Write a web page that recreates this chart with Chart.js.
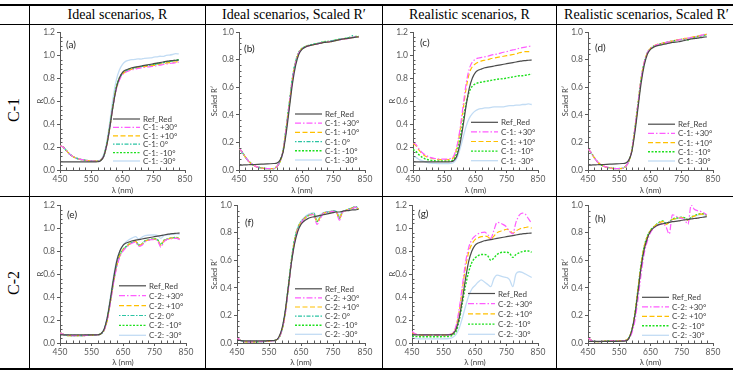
<!DOCTYPE html>
<html>
<head>
  <title>Reflectance spectra, C-1 / C-2</title>
  <script src="https://cdn.jsdelivr.net/npm/chart.js"></script>
  <style>
    body { margin: 0; background: #fff; }
    #page { position: relative; width: 736px; height: 375px; overflow: hidden; }
    .rule { position: absolute; background: #000; }
    .head {
      position: absolute; top: 5px; height: 19px; line-height: 19px;
      text-align: center; font-family: "Liberation Serif", serif; font-size: 14px; color: #000;
      white-space: nowrap;
    }
    .rowlab {
      position: absolute; width: 60px; height: 20px; line-height: 20px; text-align: center;
      font-family: "Liberation Serif", serif; font-size: 16px; transform: rotate(-90deg);
    }
    .cell { position: absolute; }
  </style>
</head>
<body>
<div id="page">
  <div class="rule" style="left:0; top:4px; width:733px; height:2px;"></div>
  <div class="rule" style="left:0; top:24px; width:733px; height:1px;"></div>
  <div class="rule" style="left:0; top:196px; width:733px; height:1px;"></div>
  <div class="rule" style="left:0; top:368px; width:733px; height:2px;"></div>
  <div class="rule" style="left:29px; top:5px; width:1px; height:364px;"></div>
  <div class="rule" style="left:205px; top:5px; width:1px; height:364px;"></div>
  <div class="rule" style="left:382px; top:5px; width:1px; height:364px;"></div>
  <div class="rule" style="left:556px; top:5px; width:1px; height:364px;"></div>

  <div class="head" style="left:30px; width:175px;">Ideal scenarios, R</div>
  <div class="head" style="left:206px; width:176px;">Ideal scenarios, Scaled R′</div>
  <div class="head" style="left:383px; width:173px;">Realistic scenarios, R</div>
  <div class="head" style="left:557px; width:179px;">Realistic scenarios, Scaled R′</div>

  <div class="rowlab" style="left:-16px; top:100px;">C-1</div>
  <div class="rowlab" style="left:-16px; top:273px;">C-2</div>

  <div class="cell" style="left:30px; top:25px;"><canvas id="pa" width="175" height="171"></canvas></div>
  <div class="cell" style="left:206px; top:25px;"><canvas id="pb" width="176" height="171"></canvas></div>
  <div class="cell" style="left:383px; top:25px;"><canvas id="pc" width="173" height="171"></canvas></div>
  <div class="cell" style="left:557px; top:25px;"><canvas id="pd" width="179" height="171"></canvas></div>
  <div class="cell" style="left:30px; top:198px;"><canvas id="pe" width="175" height="170"></canvas></div>
  <div class="cell" style="left:206px; top:198px;"><canvas id="pf" width="176" height="170"></canvas></div>
  <div class="cell" style="left:383px; top:198px;"><canvas id="pg" width="173" height="170"></canvas></div>
  <div class="cell" style="left:557px; top:198px;"><canvas id="ph" width="179" height="170"></canvas></div>
</div>
<script>
// wavelength grid (nm)
const wavelengths = [450,460,470,480,490,500,520,540,560,570,580,590,600,610,620,630,640,650,660,670,680,690,700,710,720,740,750,760,770,780,790,800,810,820,830];

// reference spectra
const refR = [0.07,0.07,0.07,0.07,0.07,0.07,0.07,0.07,0.07,0.072,0.08,0.12,0.22,0.38,0.56,0.71,0.80,0.85,0.87,0.88,0.89,0.895,0.90,0.905,0.91,0.92,0.925,0.93,0.935,0.94,0.945,0.95,0.952,0.955,0.957];
const refScaledC1 = [0.035,0.036,0.037,0.038,0.039,0.04,0.042,0.044,0.047,0.05,0.07,0.13,0.27,0.45,0.63,0.76,0.84,0.875,0.89,0.9,0.905,0.91,0.915,0.92,0.925,0.93,0.935,0.94,0.945,0.95,0.953,0.956,0.96,0.963,0.966];
const refScaledF = [0.02,0.018,0.016,0.015,0.015,0.015,0.015,0.016,0.018,0.02,0.04,0.1,0.22,0.4,0.58,0.72,0.81,0.86,0.885,0.9,0.91,0.915,0.92,0.925,0.93,0.94,0.945,0.95,0.95,0.955,0.96,0.96,0.965,0.965,0.97];
const refScaledH = [0.012,0.012,0.012,0.012,0.012,0.012,0.012,0.012,0.013,0.015,0.03,0.09,0.2,0.37,0.55,0.68,0.76,0.81,0.835,0.85,0.86,0.865,0.87,0.875,0.88,0.885,0.89,0.893,0.896,0.9,0.903,0.906,0.91,0.913,0.916];

// (a) ideal R, C-1
const a_p30 = [0.21,0.2,0.17,0.14,0.12,0.105,0.09,0.082,0.078,0.078,0.085,0.12,0.22,0.38,0.56,0.7,0.78,0.83,0.85,0.862,0.872,0.878,0.884,0.889,0.893,0.9,0.902,0.908,0.912,0.918,0.922,0.927,0.93,0.934,0.938];
const a_p10 = [0.21,0.2,0.17,0.14,0.12,0.105,0.09,0.082,0.078,0.078,0.085,0.12,0.22,0.38,0.57,0.71,0.79,0.835,0.855,0.868,0.878,0.884,0.89,0.895,0.9,0.906,0.91,0.915,0.92,0.925,0.93,0.934,0.937,0.94,0.944];
const a_p0  = [0.21,0.2,0.17,0.14,0.12,0.105,0.09,0.082,0.078,0.078,0.085,0.12,0.23,0.39,0.57,0.71,0.79,0.84,0.86,0.873,0.883,0.89,0.895,0.9,0.905,0.912,0.916,0.922,0.928,0.933,0.938,0.943,0.948,0.952,0.957];
const a_m10 = [0.21,0.2,0.17,0.14,0.12,0.105,0.09,0.082,0.078,0.078,0.086,0.12,0.23,0.39,0.57,0.72,0.8,0.843,0.862,0.875,0.884,0.89,0.896,0.902,0.906,0.914,0.918,0.925,0.93,0.935,0.94,0.945,0.95,0.955,0.96];
const a_m30 = [0.21,0.2,0.17,0.14,0.12,0.105,0.09,0.082,0.078,0.079,0.09,0.135,0.25,0.43,0.63,0.78,0.87,0.92,0.945,0.955,0.96,0.962,0.967,0.965,0.972,0.975,0.982,0.985,0.99,0.988,0.998,1.0,1.005,1.012,1.01];

// (b) ideal scaled R', C-1
const b_p30 = [0.16,0.13,0.095,0.065,0.045,0.03,0.015,0.01,0.01,0.025,0.06,0.14,0.3,0.48,0.66,0.78,0.85,0.878,0.893,0.9,0.905,0.912,0.915,0.922,0.925,0.932,0.935,0.942,0.944,0.95,0.948,0.955,0.962,0.965,0.963];
const b_p10 = [0.16,0.13,0.095,0.065,0.045,0.03,0.015,0.01,0.01,0.025,0.06,0.14,0.3,0.48,0.66,0.78,0.85,0.88,0.893,0.902,0.906,0.91,0.917,0.92,0.927,0.93,0.937,0.94,0.946,0.948,0.952,0.957,0.96,0.966,0.965];
const b_p0  = [0.16,0.13,0.095,0.065,0.045,0.03,0.015,0.01,0.01,0.025,0.06,0.14,0.31,0.49,0.67,0.79,0.85,0.88,0.895,0.903,0.91,0.915,0.92,0.926,0.928,0.935,0.94,0.945,0.95,0.95,0.955,0.96,0.975,0.965,0.968];
const b_m10 = [0.16,0.13,0.095,0.065,0.045,0.03,0.015,0.01,0.01,0.025,0.06,0.14,0.31,0.49,0.67,0.79,0.855,0.882,0.895,0.903,0.908,0.914,0.918,0.924,0.93,0.934,0.94,0.944,0.948,0.952,0.956,0.96,0.963,0.968,0.97];
const b_m30 = [0.16,0.13,0.095,0.065,0.045,0.03,0.015,0.01,0.01,0.025,0.06,0.14,0.3,0.48,0.66,0.78,0.85,0.88,0.894,0.902,0.907,0.912,0.918,0.922,0.927,0.933,0.937,0.942,0.946,0.95,0.953,0.957,0.96,0.964,0.966];

// (c) realistic R, C-1
const c_p30 = [0.24,0.22,0.18,0.15,0.13,0.115,0.1,0.095,0.095,0.1,0.12,0.2,0.35,0.55,0.75,0.88,0.94,0.965,0.975,0.98,0.985,0.99,1.0,1.005,1.01,1.025,1.03,1.04,1.045,1.05,1.06,1.065,1.07,1.075,1.08];
const c_p10 = [0.23,0.21,0.17,0.14,0.12,0.11,0.095,0.09,0.09,0.095,0.11,0.19,0.33,0.52,0.71,0.84,0.9,0.925,0.94,0.95,0.955,0.96,0.97,0.975,0.98,0.99,0.995,1.0,1.005,1.01,1.02,1.025,1.03,1.03,1.035];
const c_m10 = [0.18,0.16,0.13,0.11,0.095,0.088,0.08,0.078,0.078,0.08,0.09,0.15,0.27,0.42,0.58,0.68,0.73,0.75,0.76,0.765,0.77,0.775,0.78,0.785,0.79,0.795,0.8,0.805,0.81,0.815,0.82,0.82,0.825,0.83,0.835];
const c_m30 = [0.12,0.11,0.09,0.08,0.07,0.062,0.057,0.055,0.055,0.058,0.065,0.1,0.18,0.28,0.38,0.45,0.49,0.515,0.53,0.535,0.54,0.54,0.545,0.55,0.55,0.55,0.555,0.56,0.56,0.565,0.565,0.57,0.57,0.575,0.57];

// (d) realistic scaled R', C-1
const d_p30 = [0.155,0.125,0.09,0.06,0.04,0.028,0.015,0.01,0.012,0.025,0.06,0.14,0.3,0.48,0.66,0.78,0.85,0.88,0.898,0.908,0.914,0.92,0.925,0.93,0.935,0.944,0.948,0.953,0.956,0.96,0.966,0.97,0.975,0.982,0.985];
const d_p10 = [0.155,0.125,0.09,0.06,0.04,0.028,0.015,0.01,0.012,0.025,0.06,0.14,0.3,0.48,0.66,0.78,0.85,0.882,0.9,0.91,0.915,0.92,0.925,0.93,0.936,0.945,0.95,0.954,0.957,0.962,0.967,0.97,0.976,0.98,0.984];
const d_m10 = [0.155,0.125,0.09,0.06,0.04,0.028,0.015,0.01,0.012,0.025,0.06,0.14,0.3,0.48,0.66,0.78,0.85,0.88,0.898,0.908,0.914,0.92,0.925,0.93,0.935,0.944,0.948,0.95,0.944,0.958,0.963,0.968,0.972,0.978,0.98];
const d_m30 = [0.155,0.125,0.09,0.06,0.04,0.028,0.015,0.01,0.012,0.025,0.06,0.14,0.3,0.48,0.66,0.78,0.85,0.88,0.897,0.907,0.913,0.918,0.923,0.928,0.933,0.942,0.946,0.95,0.954,0.958,0.962,0.966,0.97,0.975,0.978];

// (e) ideal R, C-2
const e_p30 = [0.09,0.075,0.068,0.065,0.065,0.065,0.065,0.068,0.07,0.072,0.08,0.11,0.2,0.35,0.52,0.66,0.75,0.8,0.83,0.855,0.87,0.88,0.84,0.85,0.88,0.9,0.9,0.89,0.835,0.88,0.9,0.905,0.91,0.91,0.9];
const e_p10 = [0.09,0.075,0.068,0.065,0.065,0.065,0.065,0.068,0.07,0.072,0.08,0.11,0.2,0.36,0.53,0.67,0.76,0.81,0.835,0.86,0.875,0.885,0.85,0.86,0.885,0.9,0.905,0.895,0.85,0.89,0.9,0.91,0.915,0.915,0.905];
const e_p0  = [0.09,0.075,0.068,0.065,0.065,0.065,0.065,0.068,0.07,0.072,0.08,0.11,0.21,0.36,0.53,0.67,0.76,0.81,0.838,0.862,0.877,0.886,0.852,0.862,0.887,0.902,0.906,0.897,0.855,0.892,0.902,0.912,0.916,0.917,0.906];
const e_m10 = [0.09,0.075,0.068,0.065,0.065,0.065,0.065,0.068,0.07,0.072,0.08,0.115,0.21,0.37,0.54,0.68,0.77,0.815,0.84,0.863,0.878,0.887,0.85,0.86,0.888,0.903,0.907,0.898,0.855,0.893,0.903,0.913,0.917,0.918,0.907];
const e_m30 = [0.09,0.075,0.068,0.065,0.065,0.065,0.065,0.068,0.07,0.072,0.08,0.12,0.23,0.4,0.58,0.72,0.8,0.85,0.88,0.9,0.915,0.925,0.905,0.92,0.935,0.94,0.94,0.935,0.91,0.935,0.942,0.945,0.948,0.95,0.945];

// (f) ideal scaled R', C-2
const f_p30 = [0.04,0.02,0.012,0.008,0.008,0.008,0.01,0.012,0.015,0.02,0.035,0.09,0.2,0.38,0.58,0.73,0.82,0.87,0.9,0.92,0.93,0.93,0.86,0.9,0.94,0.95,0.955,0.95,0.89,0.95,0.96,0.97,0.975,0.985,0.97];
const f_p10 = [0.04,0.02,0.012,0.008,0.008,0.008,0.01,0.012,0.015,0.02,0.035,0.09,0.2,0.39,0.59,0.74,0.83,0.875,0.9,0.92,0.93,0.935,0.88,0.91,0.94,0.95,0.955,0.95,0.905,0.95,0.96,0.97,0.978,0.985,0.972];
const f_p0  = [0.04,0.02,0.012,0.008,0.008,0.008,0.01,0.012,0.015,0.02,0.035,0.09,0.21,0.39,0.59,0.74,0.83,0.875,0.902,0.922,0.932,0.94,0.885,0.915,0.942,0.952,0.958,0.953,0.91,0.953,0.962,0.972,0.98,0.99,0.975];
const f_m10 = [0.04,0.02,0.012,0.008,0.008,0.008,0.01,0.012,0.015,0.02,0.035,0.09,0.21,0.4,0.6,0.75,0.835,0.878,0.902,0.92,0.93,0.935,0.88,0.912,0.94,0.95,0.955,0.95,0.905,0.95,0.96,0.97,0.978,0.985,0.972];
const f_m30 = [0.04,0.02,0.012,0.008,0.008,0.008,0.01,0.012,0.015,0.02,0.035,0.09,0.21,0.4,0.6,0.75,0.84,0.885,0.91,0.93,0.94,0.945,0.91,0.93,0.945,0.955,0.96,0.955,0.925,0.955,0.962,0.97,0.975,0.982,0.972];

// (g) realistic R, C-2
const g_p30 = [0.1,0.08,0.072,0.07,0.07,0.07,0.07,0.07,0.072,0.075,0.09,0.15,0.3,0.5,0.7,0.83,0.9,0.93,0.95,0.96,0.965,0.945,0.91,0.98,1.05,1.03,1.01,0.97,0.95,1.05,1.11,1.13,1.12,1.08,1.04];
const g_p10 = [0.09,0.078,0.07,0.068,0.068,0.068,0.068,0.068,0.07,0.073,0.085,0.14,0.28,0.47,0.66,0.79,0.86,0.9,0.915,0.925,0.93,0.925,0.905,0.93,0.96,0.98,0.99,0.98,0.955,0.975,0.99,1.0,1.005,1.01,1.0];
const g_m10 = [0.06,0.056,0.055,0.055,0.055,0.055,0.055,0.055,0.056,0.058,0.07,0.1,0.2,0.35,0.5,0.62,0.7,0.74,0.76,0.77,0.77,0.76,0.72,0.74,0.77,0.79,0.79,0.78,0.745,0.77,0.785,0.795,0.8,0.8,0.79];
const g_m30 = [0.045,0.04,0.037,0.036,0.036,0.036,0.036,0.036,0.037,0.04,0.05,0.075,0.13,0.22,0.32,0.41,0.47,0.5,0.53,0.55,0.53,0.51,0.49,0.56,0.59,0.575,0.57,0.55,0.49,0.6,0.62,0.615,0.6,0.585,0.57];

// (h) realistic scaled R', C-2
const h_p30 = [0.04,0.02,0.012,0.01,0.01,0.012,0.015,0.015,0.015,0.018,0.03,0.07,0.16,0.32,0.5,0.65,0.74,0.8,0.83,0.85,0.86,0.865,0.84,0.79,0.93,0.91,0.905,0.89,0.86,1.0,0.97,0.96,0.955,0.945,0.93];
const h_p10 = [0.04,0.02,0.012,0.01,0.01,0.012,0.015,0.015,0.015,0.018,0.035,0.09,0.21,0.39,0.57,0.7,0.77,0.815,0.84,0.86,0.875,0.88,0.86,0.875,0.895,0.905,0.91,0.905,0.89,0.91,0.92,0.93,0.935,0.935,0.925];
const h_m10 = [0.04,0.02,0.012,0.01,0.01,0.012,0.015,0.015,0.015,0.018,0.035,0.09,0.21,0.39,0.57,0.7,0.775,0.818,0.842,0.862,0.878,0.885,0.865,0.878,0.898,0.908,0.912,0.908,0.893,0.912,0.922,0.932,0.937,0.937,0.927];
const h_m30 = [0.04,0.02,0.012,0.01,0.01,0.012,0.015,0.015,0.015,0.018,0.035,0.09,0.21,0.39,0.57,0.7,0.772,0.815,0.84,0.86,0.875,0.882,0.868,0.88,0.895,0.905,0.91,0.906,0.895,0.91,0.918,0.928,0.932,0.932,0.924];

// line styles per scenario
const STYLE = {
  ref: { color: '#4a4a4a', dash: [], width: 1.2 },
  p30: { color: '#ff5cff', dash: [6, 2, 1.5, 2], width: 1.2 },
  p10: { color: '#ffc000', dash: [5, 2.5], width: 1.2 },
  p0:  { color: '#2cc4a4', dash: [1.5, 1.5, 4, 1.5], width: 1.2 },
  m10: { color: '#1fe01f', dash: [2, 1.5], width: 1.4 },
  m30: { color: '#c2dcf4', dash: [], width: 1.3 }
};

const AXIS = '#595959';
const TXT = '#404040';
const FONT = 'Lato';

function series(key, label, values) {
  const s = STYLE[key];
  return {
    label: label,
    data: wavelengths.map((w, i) => ({ x: w, y: values[i] })),
    borderColor: s.color,
    borderDash: s.dash,
    borderWidth: s.width,
    pointRadius: 0,
    fill: false,
    cubicInterpolationMode: 'monotone'
  };
}

// small minor tick marks like the spreadsheet axes
const minorTicks = {
  id: 'minorTicks',
  afterDraw(chart) {
    const ctx = chart.ctx, x = chart.scales.x, y = chart.scales.y, a = chart.chartArea;
    ctx.save();
    ctx.strokeStyle = AXIS;
    ctx.lineWidth = 1;
    ctx.beginPath();
    for (let v = 470; v < 850; v += 20) {
      if ((v - 450) % 100 === 0) continue;
      const px = Math.round(x.getPixelForValue(v)) + 0.5;
      ctx.moveTo(px, a.bottom); ctx.lineTo(px, a.bottom - 2.5);
    }
    const ymax = y.max;
    for (let k = 1; k * 0.04 < ymax - 1e-6; k++) {
      if (k % 5 === 0) continue;
      const py = Math.round(y.getPixelForValue(k * 0.04)) + 0.5;
      ctx.moveTo(a.left, py); ctx.lineTo(a.left + 2.5, py);
    }
    ctx.stroke();
    ctx.restore();
  }
};

// legend drawn inside the plot, lower right, plus the panel tag
const panelLegend = {
  id: 'panelLegend',
  afterDatasetsDraw(chart, args, opts) {
    const ctx = chart.ctx, a = chart.chartArea;
    const sets = chart.data.datasets;
    const n = sets.length;
    ctx.save();
    ctx.font = '8px ' + FONT;
    ctx.textBaseline = 'middle';
    ctx.textAlign = 'left';
    sets.forEach((ds, i) => {
      const yy = a.bottom - opts.bottom - (n - 1 - i) * opts.gap;
      const x0 = a.right - opts.from;
      ctx.strokeStyle = ds.borderColor;
      ctx.lineWidth = ds.borderWidth;
      ctx.setLineDash(ds.borderDash);
      ctx.beginPath();
      ctx.moveTo(x0, yy); ctx.lineTo(x0 + 27, yy);
      ctx.stroke();
      ctx.setLineDash([]);
      ctx.fillStyle = TXT;
      ctx.fillText(ds.label, x0 + 30, yy + 0.5);
    });
    ctx.font = '10px ' + FONT;
    ctx.fillStyle = '#262626';
    ctx.fillText(opts.tag, a.left + opts.tagX, a.top + opts.tagY);
    ctx.restore();
  }
};

function makePanel(id, cfg) {
  const tickFont = { family: FONT, size: 8.5 };
  new Chart(document.getElementById(id), {
    type: 'line',
    data: { datasets: cfg.datasets },
    options: {
      responsive: false,
      animation: false,
      events: [],
      layout: { padding: { left: 0, top: cfg.padTop, right: cfg.padRight, bottom: 0 } },
      scales: {
        x: {
          type: 'linear', min: 450, max: 850,
          afterFit: s => { s.height = cfg.xh; },
          ticks: { stepSize: 100, font: tickFont, color: AXIS, padding: 1, maxRotation: 0, autoSkip: false },
          grid: { drawOnChartArea: false, tickLength: 3, color: AXIS },
          border: { color: AXIS, width: 1 },
          title: { display: true, text: 'λ (nm)', font: { family: FONT, size: 8 }, color: TXT, padding: { top: 0, bottom: 1 } }
        },
        y: {
          min: 0, max: cfg.ymax,
          afterFit: s => { s.width = cfg.yw; },
          ticks: { stepSize: 0.2, font: tickFont, color: AXIS, padding: 2, callback: v => v.toFixed(1) },
          grid: { drawOnChartArea: false, tickLength: 3, color: AXIS },
          border: { color: AXIS, width: 1 },
          title: { display: true, text: cfg.ytitle, font: { family: FONT, size: 7.5 }, color: TXT, padding: { top: cfg.ytPad, bottom: 0 } }
        }
      },
      plugins: {
        legend: { display: false },
        tooltip: { enabled: false },
        panelLegend: cfg.legend
      }
    },
    plugins: [minorTicks, panelLegend]
  });
}

const R = 'R', SR = 'Scaled R′';

makePanel('pa', {
  ymax: 1.2, ytitle: R, yw: 30, ytPad: 6, padTop: 6, padRight: 20, xh: 26,
  legend: { tag: '(a)', tagX: 6, tagY: 13, from: 72, gap: 8.4, bottom: 9 },
  datasets: [
    series('ref', 'Ref_Red', refR),
    series('p30', 'C-1: +30°', a_p30),
    series('p10', 'C-1: +10°', a_p10),
    series('p0', 'C-1: 0°', a_p0),
    series('m10', 'C-1: -10°', a_m10),
    series('m30', 'C-1: -30°', a_m30)
  ]
});

makePanel('pb', {
  ymax: 1.0, ytitle: SR, yw: 33, ytPad: 4, padTop: 6, padRight: 17, xh: 26,
  legend: { tag: '(b)', tagX: 5, tagY: 17, from: 70, gap: 9.2, bottom: 10 },
  datasets: [
    series('ref', 'Ref_Red', refScaledC1),
    series('p30', 'C-1: +30°', b_p30),
    series('p10', 'C-1: +10°', b_p10),
    series('p0', 'C-1: 0°', b_p0),
    series('m10', 'C-1: -10°', b_m10),
    series('m30', 'C-1: -30°', b_m30)
  ]
});

makePanel('pc', {
  ymax: 1.2, ytitle: R, yw: 30, ytPad: 5, padTop: 6, padRight: 18, xh: 26,
  legend: { tag: '(c)', tagX: 7, tagY: 11, from: 67, gap: 9.6, bottom: 9.3 },
  datasets: [
    series('ref', 'Ref_Red', refR),
    series('p30', 'C-1: +30°', c_p30),
    series('p10', 'C-1: +10°', c_p10),
    series('m10', 'C-1: -10°', c_m10),
    series('m30', 'C-1: -30°', c_m30)
  ]
});

makePanel('pd', {
  ymax: 1.0, ytitle: SR, yw: 31, ytPad: 4, padTop: 6, padRight: 23, xh: 26,
  legend: { tag: '(d)', tagX: 7, tagY: 16, from: 65, gap: 9.2, bottom: 9 },
  datasets: [
    series('ref', 'Ref_Red', refScaledC1),
    series('p30', 'C-1: +30°', d_p30),
    series('p10', 'C-1: +10°', d_p10),
    series('m10', 'C-1: -10°', d_m10),
    series('m30', 'C-1: -30°', d_m30)
  ]
});

makePanel('pe', {
  ymax: 1.2, ytitle: R, yw: 30, ytPad: 6, padTop: 6, padRight: 19, xh: 25,
  legend: { tag: '(e)', tagX: 7, tagY: 10, from: 67, gap: 9.9, bottom: 7.7 },
  datasets: [
    series('ref', 'Ref_Red', refR),
    series('p30', 'C-2: +30°', e_p30),
    series('p10', 'C-2: +10°', e_p10),
    series('p0', 'C-2: 0°', e_p0),
    series('m10', 'C-2: -10°', e_m10),
    series('m30', 'C-2: -30°', e_m30)
  ]
});

makePanel('pf', {
  ymax: 1.0, ytitle: SR, yw: 31, ytPad: 4, padTop: 6, padRight: 17, xh: 25,
  legend: { tag: '(f)', tagX: 8, tagY: 18, from: 70, gap: 9.1, bottom: 8.7 },
  datasets: [
    series('ref', 'Ref_Red', refScaledF),
    series('p30', 'C-2: +30°', f_p30),
    series('p10', 'C-2: +10°', f_p10),
    series('p0', 'C-2: 0°', f_p0),
    series('m10', 'C-2: -10°', f_m10),
    series('m30', 'C-2: -30°', f_m30)
  ]
});

makePanel('pg', {
  ymax: 1.2, ytitle: R, yw: 29, ytPad: 5, padTop: 6, padRight: 18, xh: 25,
  legend: { tag: '(g)', tagX: 6, tagY: 9, from: 70, gap: 10.2, bottom: 8.7 },
  datasets: [
    series('ref', 'Ref_Red', refR),
    series('p30', 'C-2: +30°', g_p30),
    series('p10', 'C-2: +10°', g_p10),
    series('m10', 'C-2: -10°', g_m10),
    series('m30', 'C-2: -30°', g_m30)
  ]
});

makePanel('ph', {
  ymax: 1.0, ytitle: SR, yw: 31, ytPad: 4, padTop: 6, padRight: 23, xh: 25,
  legend: { tag: '(h)', tagX: 7, tagY: 14, from: 71, gap: 9.5, bottom: 7.7 },
  datasets: [
    series('ref', 'Ref_Red', refScaledH),
    series('p30', 'C-2: +30°', h_p30),
    series('p10', 'C-2: +10°', h_p10),
    series('m10', 'C-2: -10°', h_m10),
    series('m30', 'C-2: -30°', h_m30)
  ]
});
</script>
</body>
</html>
